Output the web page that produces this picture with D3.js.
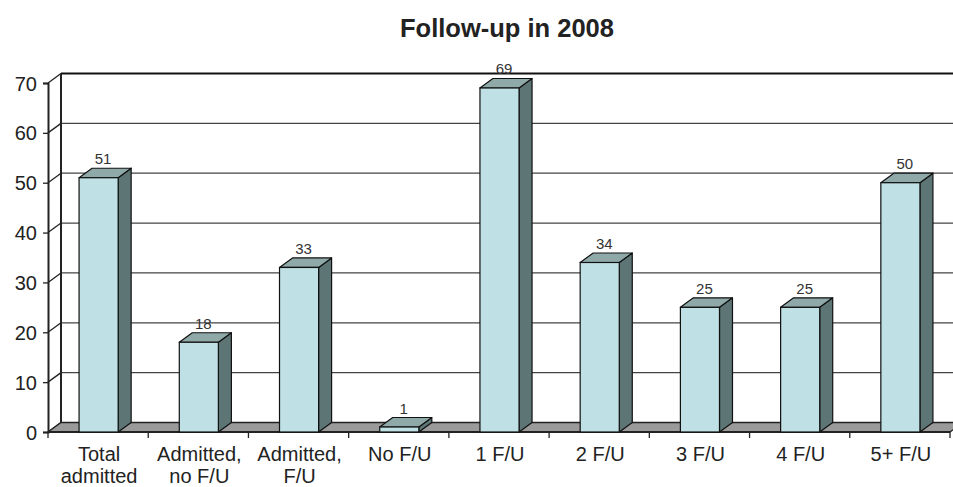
<!DOCTYPE html>
<html>
<head>
<meta charset="utf-8">
<script src="https://cdn.jsdelivr.net/npm/d3@7"></script>
<style>
  body { margin: 0; background: #fff; }
  svg { font-family: "Liberation Sans", Arial, sans-serif; }
</style>
</head>
<body>
<div class="chart"></div>
<script>
// data
var categories = ["Total\nadmitted", "Admitted,\nno F/U", "Admitted,\nF/U", "No F/U", "1 F/U", "2 F/U", "3 F/U", "4 F/U", "5+ F/U"];
var values = [51, 18, 33, 1, 69, 34, 25, 25, 50];
var yTicks = [0, 10, 20, 30, 40, 50, 60, 70];
var title = "Follow-up in 2008";

var W = 953, H = 487;
var dx = 13, dy = -9.5; // 3d depth

var x = d3.scaleBand()
  .domain(categories)
  .range([48, 950]);

var y = d3.scaleLinear()
  .domain([0, 70])
  .range([432, 83]);

var svg = d3.select(".chart")
  .append("svg")
  .attr("width", W)
  .attr("height", H);

svg.append("text")
  .attr("x", 507)
  .attr("y", 37)
  .attr("text-anchor", "middle")
  .attr("font-size", "25.5px")
  .attr("font-weight", "bold")
  .attr("fill", "#222")
  .text(title);

// back wall grid lines
svg.selectAll(".grid")
  .data(yTicks.filter(function (d) { return d > 0; }))
  .enter().append("line")
  .attr("x1", 48 + dx).attr("x2", W)
  .attr("y1", function (d) { return y(d) + dy; })
  .attr("y2", function (d) { return y(d) + dy; })
  .attr("stroke", function (d) { return d == 70 ? "#111" : "#444"; })
  .attr("stroke-width", function (d) { return d == 70 ? 2 : 1.3; });

// side wall diagonals
svg.selectAll(".diag")
  .data(yTicks)
  .enter().append("line")
  .attr("x1", 48).attr("x2", 48 + dx)
  .attr("y1", function (d) { return y(d); })
  .attr("y2", function (d) { return y(d) + dy; })
  .attr("stroke", "#222")
  .attr("stroke-width", 1.3);

svg.append("line")
  .attr("x1", 48 + dx).attr("x2", 48 + dx)
  .attr("y1", y(0) + dy).attr("y2", y(70) + dy)
  .attr("stroke", "#222")
  .attr("stroke-width", 2);

// floor
var x0 = 48, x1 = 950;
svg.append("path")
  .attr("d", "M" + x0 + "," + y(0) + "L" + x1 + "," + y(0) + "L" + (x1 + dx) + "," + (y(0) + dy) +
    "L" + (x0 + dx) + "," + (y(0) + dy) + "Z")
  .attr("fill", "#9a9a9a")
  .attr("stroke", "#222")
  .attr("stroke-width", 1.3);

// y axis
var yAxis = svg.append("g")
  .attr("transform", "translate(48,0)")
  .call(d3.axisLeft(y).tickValues(yTicks).tickSize(5).tickPadding(6));
yAxis.select(".domain").attr("stroke", "#222").attr("stroke-width", 2);
yAxis.selectAll(".tick line").attr("stroke", "#222").attr("stroke-width", 1.3);
yAxis.selectAll(".tick text")
  .attr("font-size", "20px")
  .attr("fill", "#222")
  .attr("dy", "0.35em")
  .attr("font-family", "Liberation Sans, Arial, sans-serif");

// x axis ticks at category boundaries
var bounds = categories.map(function (d) { return x(d); }).concat([x1]);
svg.selectAll(".xtick")
  .data(bounds)
  .enter().append("line")
  .attr("x1", function (d) { return d; })
  .attr("x2", function (d) { return d; })
  .attr("y1", y(0)).attr("y2", y(0) + 6)
  .attr("stroke", "#222")
  .attr("stroke-width", 1.3);

svg.append("line")
  .attr("x1", x0).attr("x2", x1)
  .attr("y1", y(0)).attr("y2", y(0))
  .attr("stroke", "#222")
  .attr("stroke-width", 2);

var xLabels = svg.selectAll(".xlab")
  .data(categories)
  .enter().append("text")
  .attr("text-anchor", "middle")
  .attr("font-size", "20px")
  .attr("fill", "#222");
xLabels.selectAll("tspan")
  .data(function (d) { return d.split("\n").map(function (t) { return { t: t, c: d }; }); })
  .enter().append("tspan")
  .attr("x", function (d) { return x(d.c) + x.bandwidth() / 2 + 1; })
  .attr("y", function (d, i) { return 461 + i * 21.5; })
  .text(function (d) { return d.t; });

// bars
var bw = x.bandwidth() * 0.39;
var bars = svg.selectAll(".bar")
  .data(values)
  .enter().append("g")
  .attr("class", "bar");

function bl(i) { return x(categories[i]) + x.bandwidth() / 2 - bw / 2 + 0.5; }

bars.append("path") // side
  .attr("d", function (d, i) {
    var l = bl(i) + bw;
    return "M" + l + "," + y(0) + "L" + l + "," + y(d) + "L" + (l + dx) + "," + (y(d) + dy) +
      "L" + (l + dx) + "," + (y(0) + dy) + "Z";
  })
  .attr("fill", "#5e7575")
  .attr("stroke", "#111")
  .attr("stroke-width", 1.2)
  .attr("stroke-linejoin", "round");

bars.append("path") // top
  .attr("d", function (d, i) {
    var l = bl(i);
    return "M" + l + "," + y(d) + "L" + (l + bw) + "," + y(d) + "L" + (l + bw + dx) + "," + (y(d) + dy) +
      "L" + (l + dx) + "," + (y(d) + dy) + "Z";
  })
  .attr("fill", "#8fa9a9")
  .attr("stroke", "#111")
  .attr("stroke-width", 1.2)
  .attr("stroke-linejoin", "round");

bars.append("rect") // front
  .attr("x", function (d, i) { return bl(i); })
  .attr("y", function (d) { return y(d); })
  .attr("width", bw)
  .attr("height", function (d) { return y(0) - y(d); })
  .attr("fill", "#bfe0e4")
  .attr("stroke", "#111")
  .attr("stroke-width", 1.2);

bars.append("text")
  .attr("x", function (d, i) { return bl(i) + bw / 2 + dx / 2 - 2; })
  .attr("y", function (d) { return y(d) + dy - 4; })
  .attr("text-anchor", "middle")
  .attr("font-size", "15px")
  .attr("fill", "#333")
  .text(function (d) { return d; });
</script>
</body>
</html>
